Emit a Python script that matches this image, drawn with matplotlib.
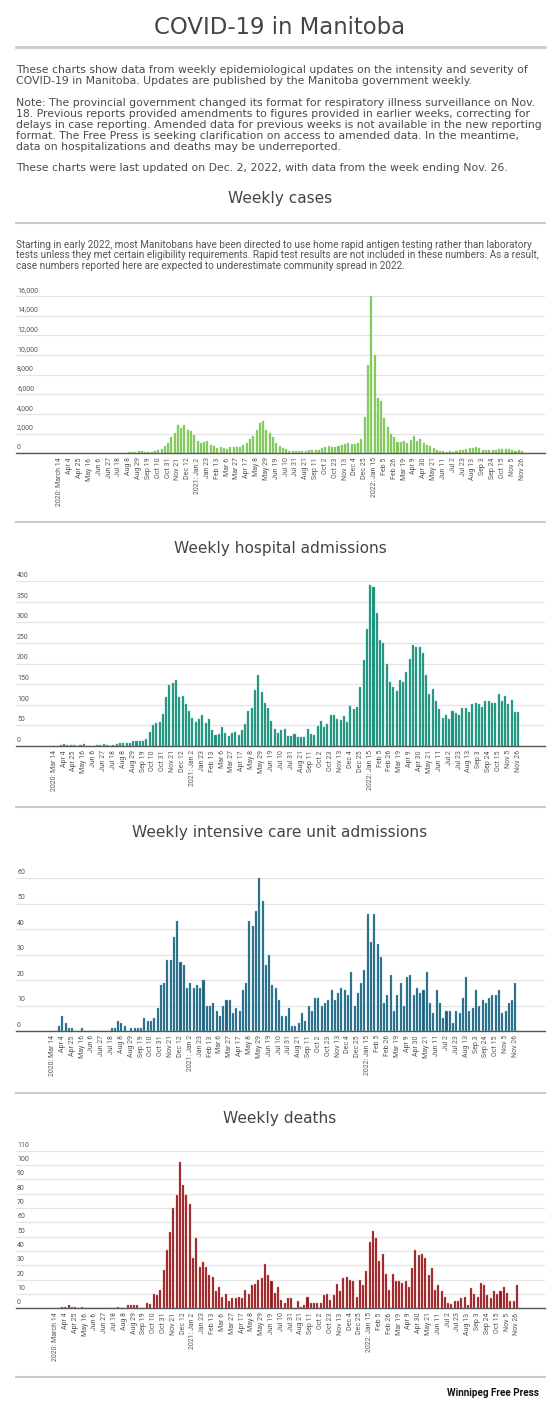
import matplotlib
matplotlib.use("Agg")
import matplotlib.pyplot as plt
import matplotlib.transforms as mtransforms
from matplotlib.lines import Line2D

# ---- data (weekly, week ending Sat, 2020-03-14 .. 2022-11-26) ----
week_labels_long = ["2020: March 14", "Apr 4", "Apr 25", "May 16", "Jun 6", "Jun 27", "Jul 18",
                    "Aug 8", "Aug 29", "Sep 19", "Oct 10", "Oct 31", "Nov 21", "Dec 12",
                    "2021: Jan 2", "Jan 23", "Feb 13", "Mar 6", "Mar 27", "Apr 17", "May 8",
                    "May 29", "Jun 19", "Jul 10", "Jul 31", "Aug 21", "Sep 11", "Oct 2",
                    "Oct 23", "Nov 13", "Dec 4", "Dec 25", "2022: Jan 15", "Feb 5", "Feb 26",
                    "Mar 19", "Apr 9", "Apr 30", "May 21", "Jun 11", "Jul 2", "Jul 23",
                    "Aug 13", "Sep 3", "Sep 24", "Oct 15", "Nov 5", "Nov 26"]
week_labels_short = ["2020: Mar 14"] + week_labels_long[1:]

cases = [0, 5, 20, 60, 70, 40, 15, 10, 5, 5,
         5, 5, 5, 5, 10, 10, 20, 30, 40, 60,
         80, 90, 100, 150, 250, 200, 150, 100, 150, 200,
         300, 450, 700, 1000, 1700, 2100, 2850, 2550, 2900, 2400,
         2250, 1900, 1250, 1050, 1200, 1250, 800, 700, 550, 600,
         500, 450, 600, 650, 600, 600, 800, 1000, 1500, 1800,
         2400, 3100, 3250, 2400, 2100, 1650, 1000, 750, 550, 470,
         240, 240, 240, 220, 220, 240, 340, 300, 370, 370,
         500, 650, 700, 600, 640, 750, 880, 980, 1050, 920,
         950, 1050, 1500, 3660, 9000, 16000, 10000, 5660, 5320, 3560,
         2640, 1970, 1630, 1150, 1150, 1290, 1020, 1360, 1760, 1250,
         1460, 1080, 880, 750, 510, 370, 240, 200, 140, 200,
         170, 270, 300, 340, 440, 510, 580, 610, 510, 370,
         370, 340, 370, 370, 410, 440, 410, 440, 340, 270,
         300, 240]

hospital = [0, 1, 3, 4, 3, 2, 2, 1, 2, 4,
            1, 1, 1, 2, 3, 6, 2, 1, 3, 4,
            7, 8, 7, 8, 11, 11, 12, 13, 17, 33,
            52, 55, 57, 77, 119, 147, 153, 159, 118, 120,
            101, 85, 68, 57, 65, 74, 56, 65, 38, 27,
            28, 47, 31, 25, 31, 33, 27, 39, 54, 86,
            92, 135, 171, 130, 104, 91, 61, 41, 32, 39,
            40, 24, 24, 29, 22, 22, 23, 40, 28, 27,
            48, 61, 46, 53, 76, 75, 65, 64, 72, 58,
            97, 90, 95, 144, 208, 284, 390, 386, 322, 257,
            250, 198, 154, 142, 134, 159, 154, 179, 212, 246,
            240, 240, 225, 172, 126, 138, 110, 89, 69, 76,
            66, 86, 81, 75, 91, 91, 82, 103, 104, 102,
            95, 108, 110, 104, 104, 125, 108, 120, 102, 112,
            82, 82]

icu = [0, 0, 2, 6, 3, 1, 1, 0, 0, 1,
       0, 0, 0, 0, 0, 0, 0, 0, 1, 1,
       4, 3, 2, 0, 1, 1, 1, 1, 5, 4,
       4, 5, 9, 18, 19, 28, 28, 37, 43, 27,
       26, 17, 19, 17, 18, 17, 20, 10, 10, 11,
       8, 6, 10, 12, 12, 7, 9, 8, 16, 19,
       43, 41, 47, 61, 51, 26, 30, 18, 17, 12,
       6, 6, 9, 2, 2, 3, 7, 4, 10, 8,
       13, 13, 10, 11, 12, 16, 12, 15, 17, 16,
       14, 23, 10, 15, 19, 24, 46, 35, 46, 34,
       29, 11, 14, 22, 8, 14, 19, 10, 21, 22,
       14, 17, 15, 16, 23, 11, 7, 16, 11, 5,
       8, 8, 3, 8, 7, 13, 21, 8, 9, 16,
       10, 12, 11, 13, 14, 14, 16, 7, 8, 11,
       12, 19]

deaths = [0, 0, 1, 1, 2, 1, 1, 0, 1, 0,
          0, 0, 0, 0, 0, 0, 0, 0, 0, 1,
          0, 0, 2, 2, 2, 2, 0, 0, 4, 3,
          10, 9, 13, 27, 41, 53, 70, 79, 102, 86,
          79, 73, 35, 49, 29, 32, 29, 23, 22, 12,
          15, 8, 10, 5, 7, 7, 8, 7, 13, 10,
          16, 17, 20, 21, 31, 23, 19, 11, 15, 6,
          4, 7, 7, 0, 5, 1, 2, 8, 4, 4,
          4, 4, 9, 10, 6, 9, 17, 12, 21, 22,
          20, 19, 8, 20, 16, 26, 46, 54, 49, 33,
          38, 24, 13, 24, 19, 19, 18, 19, 15, 28,
          41, 37, 38, 35, 23, 28, 13, 16, 12, 8,
          4, 3, 5, 5, 7, 8, 2, 14, 10, 8,
          18, 16, 9, 7, 12, 10, 12, 15, 11, 5,
          5, 16]

cases_ticks = list(range(0, 16001, 2000))
hospital_ticks = list(range(0, 401, 50))
icu_ticks = list(range(0, 61, 10))
deaths_ticks = list(range(0, 111, 10))

title = "COVID-19 in Manitoba"
intro = [
    ["These charts show data from weekly epidemiological updates on the intensity and severity of",
     "COVID-19 in Manitoba. Updates are published by the Manitoba government weekly."],
    ["Note: The provincial government changed its format for respiratory illness surveillance on Nov.",
     "18. Previous reports provided amendments to figures provided in earlier weeks, correcting for",
     "delays in case reporting. Amended data for previous weeks is not available in the new reporting",
     "format. The Free Press is seeking clarification on access to amended data. In the meantime,",
     "data on hospitalizations and deaths may be underreported."],
    ["These charts were last updated on Dec. 2, 2022, with data from the week ending Nov. 26."],
]
cases_note = [
    "Starting in early 2022, most Manitobans have been directed to use home rapid antigen testing rather than laboratory",
    "tests unless they met certain eligibility requirements. Rapid test results are not included in these numbers. As a result,",
    "case numbers reported here are expected to underestimate community spread in 2022.",
]

# ---- layout ----
W, H = 560, 1412
fig = plt.figure(figsize=(W / 100, H / 100), dpi=100)
fig.patch.set_facecolor("white")
renderer = fig.canvas.get_renderer()

BODY = "DejaVu Sans"
CHART = "Roboto"
TXT = "#4a4a4a"
HEAD = "#444444"
L, R = 16, 545


def fy(y):
    return 1 - y / H


def box(x0, y0, x1, y1):
    return [x0 / W, 1 - y1 / H, (x1 - x0) / W, (y1 - y0) / H]


def fit_size(text, family, target, weight="normal"):
    t = fig.text(0, 0, text, fontsize=10, family=family, weight=weight)
    w = t.get_window_extent(renderer).width
    t.remove()
    return 10 * target / w


def hline(y, lw=1.5, color="#cccccc"):
    fig.add_artist(Line2D([L / W, R / W], [fy(y), fy(y)], transform=fig.transFigure,
                          color=color, lw=lw))


fig.text(0.5, fy(27.5), title, ha="center", va="center", fontsize=16.4, family=BODY, color=HEAD)
hline(46.7, lw=2)

body_size = fit_size(intro[1][2], BODY, 527)
intro_y = [[70, 81], [102.7, 113.7, 124.7, 135.7, 146.7], [168.3]]
for lines, ys in zip(intro, intro_y):
    for line, y in zip(lines, ys):
        fig.text(L / W, fy(y), line, ha="left", va="center", fontsize=body_size,
                 family=BODY, color=TXT)

fig.text(0.5, fy(198.3), "Weekly cases", ha="center", va="center", fontsize=11.1,
         family=BODY, color=HEAD)
hline(222.7)

note_size = fit_size(cases_note[1], CHART, 524)
for line, y in zip(cases_note, [245, 255.3, 265.7]):
    fig.text(L / W, fy(y), line, ha="left", va="center", fontsize=note_size,
             family=CHART, color="#555555")


def bar_chart(rect, values, ticks, labels, color, edge, xlim, fmt="{:,}"):
    ax = fig.add_axes(rect)
    x = list(range(len(values)))
    ax.bar(x, values, width=0.62, color=color, edgecolor=edge, linewidth=0.3, zorder=2)
    ax.set_xlim(*xlim)
    ax.set_ylim(ticks[0], ticks[-1])
    ax.set_yticks(ticks)
    ax.yaxis.grid(True, color="#e4e4e4", lw=0.9, zorder=0)
    ax.tick_params(axis="y", length=0, labelleft=False)
    ax.set_xticks(x[::3])
    ax.set_xticklabels(labels, rotation=90, fontsize=5, family=CHART, color="#555555")
    ax.tick_params(axis="x", length=0, pad=3)
    for s in ["top", "left", "right"]:
        ax.spines[s].set_visible(False)
    ax.spines["bottom"].set_color("#555555")
    ax.spines["bottom"].set_linewidth(1)
    ax.spines["bottom"].set_zorder(3)
    tr = mtransforms.blended_transform_factory(ax.transAxes, ax.transData)
    off = mtransforms.ScaledTranslation(0, 1.5 / 72, fig.dpi_scale_trans)
    for t in ticks:
        ax.text(0.002, t, fmt.format(t), transform=tr + off, ha="left", va="bottom",
                fontsize=5, family=CHART, color="#555555")
    ax.set_facecolor("none")
    return ax


bar_chart(box(L, 296, R, 453.3), cases, cases_ticks, week_labels_long,
          "#7bc653", "#a8dc8c", (-13.4, 148.0))
hline(522)

fig.text(0.5, fy(548), "Weekly hospital admissions", ha="center", va="center", fontsize=11.1,
         family=BODY, color=HEAD)
bar_chart(box(L, 581, R, 746), hospital, hospital_ticks, week_labels_short,
          "#168c79", "#6cc2b0", (-11.6, 149.1))
hline(807)

fig.text(0.5, fy(832), "Weekly intensive care unit admissions", ha="center", va="center",
         fontsize=11.1, family=BODY, color=HEAD)
bar_chart(box(L, 878, R, 1031), icu, icu_ticks, week_labels_short,
          "#1b5d78", "#7fbfd6", (-11.1, 150.0))
hline(1093)

fig.text(0.5, fy(1118), "Weekly deaths", ha="center", va="center", fontsize=11.1,
         family=BODY, color=HEAD)
bar_chart(box(L, 1150.7, R, 1308.3), deaths, deaths_ticks, week_labels_long,
          "#8e1518", "#e38a8a", (-12.1, 149.6))
hline(1377)

logo = "Winnipeg Free Press"
logo_fam = ["Liberation Sans Narrow", "Roboto", "DejaVu Sans"]
logo_size = fit_size(logo, logo_fam, 92, weight="bold")
fig.text(539 / W, fy(1393), logo, ha="right", va="center", fontsize=logo_size,
         family=logo_fam, weight="bold", color="#111111")

fig.savefig("out.png", dpi=100, facecolor="white")
